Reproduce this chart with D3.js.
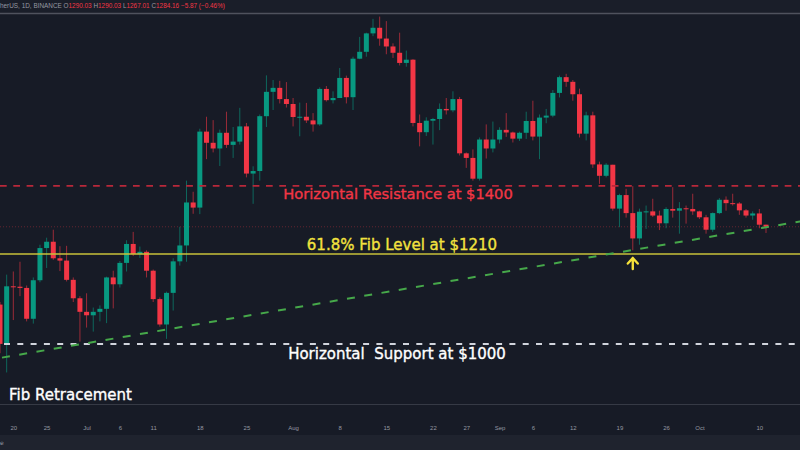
<!DOCTYPE html>
<html><head><meta charset="utf-8">
<script src="https://cdn.jsdelivr.net/npm/d3@7"></script>
<style>html,body{margin:0;padding:0;background:#171b26;overflow:hidden}svg{display:block}</style>
</head><body>
<svg id="c" width="800" height="450"></svg>
<script>
const dates = [
"2022-06-18","2022-06-19","2022-06-20","2022-06-21","2022-06-22","2022-06-23","2022-06-24","2022-06-25","2022-06-26","2022-06-27","2022-06-28","2022-06-29","2022-06-30",
"2022-07-01","2022-07-02","2022-07-03","2022-07-04","2022-07-05","2022-07-06","2022-07-07","2022-07-08","2022-07-09","2022-07-10","2022-07-11","2022-07-12","2022-07-13","2022-07-14","2022-07-15","2022-07-16","2022-07-17","2022-07-18","2022-07-19","2022-07-20","2022-07-21","2022-07-22","2022-07-23","2022-07-24","2022-07-25","2022-07-26","2022-07-27","2022-07-28","2022-07-29","2022-07-30","2022-07-31",
"2022-08-01","2022-08-02","2022-08-03","2022-08-04","2022-08-05","2022-08-06","2022-08-07","2022-08-08","2022-08-09","2022-08-10","2022-08-11","2022-08-12","2022-08-13","2022-08-14","2022-08-15","2022-08-16","2022-08-17","2022-08-18","2022-08-19","2022-08-20","2022-08-21","2022-08-22","2022-08-23","2022-08-24","2022-08-25","2022-08-26","2022-08-27","2022-08-28","2022-08-29","2022-08-30","2022-08-31",
"2022-09-01","2022-09-02","2022-09-03","2022-09-04","2022-09-05","2022-09-06","2022-09-07","2022-09-08","2022-09-09","2022-09-10","2022-09-11","2022-09-12","2022-09-13","2022-09-14","2022-09-15","2022-09-16","2022-09-17","2022-09-18","2022-09-19","2022-09-20","2022-09-21","2022-09-22","2022-09-23","2022-09-24","2022-09-25","2022-09-26","2022-09-27","2022-09-28","2022-09-29","2022-09-30",
"2022-10-01","2022-10-02","2022-10-03","2022-10-04","2022-10-05","2022-10-06","2022-10-07","2022-10-08","2022-10-09","2022-10-10","2022-10-11"];

const open = [
1084,995,1128,1127,1124,1051,1143,1226,1243,1199,1193,1144,1099,
1067,1059,1067,1074,1150,1133,1187,1237,1210,1216,1167,1097,1038,1112,1191,1233,1354,1339,1580,1542,1523,1576,1535,1546,1598,1442,1450,1634,1723,1738,1696,
1678,1631,1632,1619,1605,1734,1692,1700,1776,1703,1852,1880,1957,1981,1935,1902,1876,1835,1848,1610,1578,1618,1624,1660,1655,1696,1507,1492,1426,1553,1523,
1553,1586,1577,1556,1576,1617,1563,1629,1636,1719,1779,1761,1714,1573,1637,1471,1435,1470,1336,1376,1323,1252,1327,1328,1316,1294,1335,1330,1337,1335,
1328,1311,1276,1323,1362,1352,1351,1331,1316,1322,1290.03];

const high = [
1090,1157,1165,1190,1130,1150,1235,1254,1276,1231,1232,1150,1104,
1111,1077,1082,1152,1167,1192,1247,1270,1230,1220,1170,1101,1115,1199,1284,1420,1386,1590,1632,1620,1587,1650,1596,1664,1610,1465,1640,1786,1768,1765,1760,
1700,1683,1682,1645,1740,1745,1725,1815,1785,1860,1942,1960,2020,2030,2010,1915,1960,1885,1850,1640,1630,1628,1680,1700,1725,1704,1510,1520,1560,1605,1615,
1595,1645,1580,1580,1650,1690,1640,1660,1730,1785,1792,1768,1735,1650,1650,1480,1475,1470,1380,1395,1403,1336,1345,1365,1330,1340,1400,1355,1345,1380,
1330,1318,1325,1367,1372,1380,1355,1335,1328,1335,1290.03];

const low = [
975,935,1048,1104,1045,1040,1138,1174,1195,1166,1140,1090,1000,
1031,1022,1045,1041,1075,1125,1165,1205,1200,1150,1090,1033,1006,1070,1180,1190,1321,1320,1488,1510,1466,1525,1492,1536,1430,1350,1420,1596,1656,1680,1665,
1598,1564,1610,1580,1600,1687,1680,1700,1680,1656,1850,1860,1945,1905,1870,1855,1825,1820,1598,1530,1565,1536,1585,1640,1648,1500,1460,1420,1420,1490,1510,
1540,1562,1543,1548,1555,1550,1488,1609,1630,1702,1742,1690,1560,1550,1460,1410,1430,1330,1283,1310,1220,1235,1278,1312,1275,1280,1310,1265,1293,1318,
1306,1265,1270,1320,1330,1345,1318,1310,1304,1280,1267.01];

const close = [
995,1128,1127,1124,1051,1143,1226,1243,1199,1193,1144,1099,1067,
1059,1067,1074,1150,1133,1187,1237,1210,1216,1167,1097,1038,1112,1191,1233,1354,1339,1580,1542,1523,1576,1535,1546,1598,1442,1450,1634,1723,1738,1696,1678,
1631,1632,1619,1605,1734,1692,1700,1776,1703,1852,1880,1957,1981,1935,1902,1876,1835,1848,1610,1578,1618,1624,1660,1655,1696,1507,1492,1426,1553,1523,1553,
1586,1577,1556,1576,1617,1563,1629,1636,1719,1779,1761,1714,1573,1637,1471,1435,1470,1336,1376,1323,1252,1327,1328,1316,1294,1335,1330,1337,1335,1328,
1311,1276,1323,1362,1352,1351,1331,1316,1322,1290.03,1284.16];

const tickDates = ["2022-06-20","2022-06-25","2022-07-01","2022-07-06","2022-07-11","2022-07-18","2022-07-25","2022-08-01","2022-08-08","2022-08-15","2022-08-22","2022-08-27","2022-09-01","2022-09-06","2022-09-12","2022-09-19","2022-09-26","2022-10-01","2022-10-10"];
const tickLabels = ["20","25","Jul","6","11","18","25","Aug","8","15","22","27","Sep","6","12","19","26","Oct","10"];

// annotation levels (price)
const resistanceLevel = 1404;
const fibLevel = 1210;
const supportLevel = 995;
const trendStart = ["2022-06-18", 965];
const trendEnd = ["2022-10-17", 1302];
const arrowDate = "2022-09-21";

const parse = d3.timeParse("%Y-%m-%d");
const data = dates.map((d,i)=>({date:parse(d),o:open[i],h:high[i],l:low[i],c:close[i]}));

const W = 800, H = 450;
const x = d3.scaleTime().domain([parse(dates[0]), parse(dates[dates.length-1])]).range([0, 766]);
const y = d3.scaleLog().domain([1000, 2000]).range([341.6, 23.4]);

const UP = "#089981", DOWN = "#f23645";
const svg = d3.select("#c");

svg.append("rect").attr("width",W).attr("height",H).attr("fill","#171b26");
svg.append("rect").attr("width",W).attr("height",13).attr("fill","#1a1e29");
svg.append("rect").attr("y",435).attr("width",W).attr("height",15).attr("fill","#1f232e");
svg.append("line").attr("x1",0).attr("x2",W).attr("y1",13.5).attr("y2",13.5).attr("stroke","#4f525d").attr("stroke-width",1.6);
svg.append("line").attr("x1",0).attr("x2",W).attr("y1",404.5).attr("y2",404.5).attr("stroke","#363a45").attr("stroke-width",1);

// header
const hdr = svg.append("text").attr("x",0).attr("y",8).attr("font-family","Liberation Sans, Arial, sans-serif").attr("font-size",6.4).attr("fill","#9598a1");
const last = data[data.length-1];
const prev = data[data.length-2];
const chg = last.c - prev.c;
hdr.append("tspan").text("herUS, 1D, BINANCE  O");
hdr.append("tspan").attr("fill",DOWN).text(last.o.toFixed(2));
hdr.append("tspan").text(" H");
hdr.append("tspan").attr("fill",DOWN).text(last.h.toFixed(2));
hdr.append("tspan").text(" L");
hdr.append("tspan").attr("fill",DOWN).text(last.l.toFixed(2));
hdr.append("tspan").text(" C");
hdr.append("tspan").attr("fill",DOWN).text(last.c.toFixed(2) + " \u2212" + Math.abs(chg).toFixed(2) + " (\u2212" + Math.abs(chg/prev.c*100).toFixed(2) + "%)");

// current price dotted line
svg.append("line").attr("x1",0).attr("x2",W).attr("y1",y(last.c)).attr("y2",y(last.c))
  .attr("stroke",DOWN).attr("stroke-opacity",0.35).attr("stroke-width",1).attr("stroke-dasharray","1,2");

// candles
const g = svg.append("g");
const bw = 5;
g.selectAll("line.w").data(data).join("line").attr("class","w")
  .attr("x1",d=>x(d.date)).attr("x2",d=>x(d.date)).attr("y1",d=>y(d.h)).attr("y2",d=>y(d.l))
  .attr("stroke",d=>d.c>=d.o?UP:DOWN).attr("stroke-opacity",0.6).attr("stroke-width",1);
g.selectAll("rect.b").data(data).join("rect").attr("class","b")
  .attr("x",d=>x(d.date)-bw/2).attr("width",bw)
  .attr("y",d=>y(Math.max(d.o,d.c)))
  .attr("height",d=>Math.max(1, Math.abs(y(d.o)-y(d.c))))
  .attr("fill",d=>d.c>=d.o?UP:DOWN);

// horizontal levels
svg.append("line").attr("x1",0).attr("x2",W).attr("y1",y(resistanceLevel)).attr("y2",y(resistanceLevel))
  .attr("stroke","#b8283a").attr("stroke-width",1.8).attr("stroke-dasharray","6.7,6.6");
svg.append("line").attr("x1",0).attr("x2",W).attr("y1",y(fibLevel)).attr("y2",y(fibLevel))
  .attr("stroke","#c9c23a").attr("stroke-width",1.5);
svg.append("line").attr("x1",0).attr("x2",W).attr("y1",y(supportLevel)).attr("y2",y(supportLevel))
  .attr("stroke","#d1d4dc").attr("stroke-width",2).attr("stroke-dasharray","6,7.3").attr("stroke-dashoffset",9.3);

// trend line
svg.append("line")
  .attr("x1",x(parse(trendStart[0]))).attr("y1",y(trendStart[1]))
  .attr("x2",x(parse(trendEnd[0]))).attr("y2",y(trendEnd[1]))
  .attr("stroke","#46a84a").attr("stroke-width",2).attr("stroke-dasharray","8,9.5").attr("stroke-dashoffset",-2);

// texts
const font = "DejaVu Sans, Verdana, sans-serif";
function label(tx, ty, size, color, str, anchor) {
  return svg.append("text").attr("x",tx).attr("y",ty).attr("text-anchor",anchor||"middle")
    .attr("font-family",font).attr("font-size",size).attr("fill",color)
    .attr("stroke",color).attr("stroke-width",0.35)
    .style("white-space","pre").text(str);
}
label(398, 199, 14.7, "#f23645", "Horizontal Resistance at $1400");
label(402, 250, 15, "#f2e23e", "61.8% Fib Level at $1210");
label(397, 359, 15, "#ffffff", "Horizontal  Support at $1000");
label(9, 400, 15, "#ffffff", "Fib Retracement", "start");

// arrow
const ax = x(parse(arrowDate));
svg.append("path").attr("d",`M${ax},269 L${ax},258 M${ax-5},263.5 L${ax},258 L${ax+5},263.5`)
  .attr("fill","none").attr("stroke","#f5e13a").attr("stroke-width",2.4).attr("stroke-linecap","round").attr("stroke-linejoin","round");

// x axis
const axis = d3.axisBottom(x).tickValues(tickDates.map(parse)).tickFormat((d,i)=>tickLabels[i]).tickSize(0).tickPadding(0);
const ag = svg.append("g").attr("transform","translate(0,426)").call(axis);
ag.select(".domain").remove();
ag.selectAll("text").attr("font-family","Liberation Sans, Arial, sans-serif").attr("font-size",6).attr("fill","#9598a1");

svg.append("text").attr("x",0).attr("y",445).attr("font-family",font).attr("font-size",6).attr("fill","#9598a1").text("e");
</script>
</body></html>
